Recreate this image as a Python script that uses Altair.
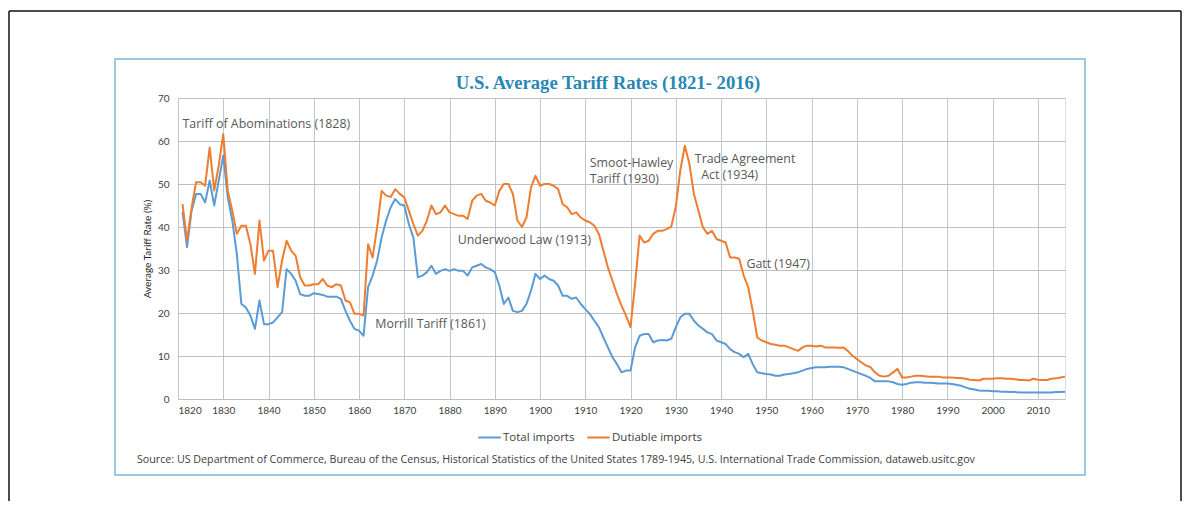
import altair as alt
import pandas as pd

# ---------------- data ----------------
years = list(range(1821, 2017))

total_imports = [
    43.5, 35.3, 43.8, 47.7, 47.7, 45.7, 50.8, 45.0, 50.8,            # 1821-1829
    56.6, 46.9, 41.5, 33.7, 22.1, 21.3, 19.4, 16.3, 22.9, 17.4,      # 1830s
    17.4, 17.8, 19.0, 20.2, 30.2, 29.1, 27.5, 24.4, 24.0, 24.0,      # 1840s
    24.6, 24.4, 24.2, 23.8, 23.8, 23.8, 23.3, 20.5, 18.2, 16.3,      # 1850s
    15.9, 14.7, 26.0, 28.7, 32.2, 37.6, 41.5, 44.6, 46.5, 45.3,      # 1860s
    45.0, 40.7, 37.6, 28.3, 28.7, 29.5, 31.0, 29.1, 29.8, 30.2,      # 1870s
    29.8, 30.2, 29.8, 29.8, 28.7, 30.6, 31.0, 31.4, 30.6, 30.2,      # 1880s
    29.5, 26.4, 22.1, 23.6, 20.5, 20.2, 20.5, 22.1, 25.2, 29.1,      # 1890s
    27.9, 28.7, 27.9, 27.5, 26.4, 24.0, 24.0, 23.3, 23.6, 22.1,      # 1900s
    20.9, 19.8, 18.2, 16.7, 14.3, 12.0, 9.7, 8.1, 6.2, 6.6,          # 1910s
    6.6, 12.0, 14.7, 15.1, 15.1, 13.2, 13.6, 13.7, 13.6, 14.0,       # 1920s
    16.7, 19.0, 19.8, 19.8, 18.2, 17.1, 16.3, 15.5, 15.1, 13.6,      # 1930s
    13.2, 12.8, 11.6, 10.9, 10.5, 9.7, 10.5, 8.1, 6.2, 6.0,          # 1940s
    5.8, 5.7, 5.4, 5.4, 5.7, 5.8, 6.0, 6.2, 6.6, 7.0,                # 1950s
    7.2, 7.4, 7.4, 7.4, 7.5, 7.5, 7.5, 7.4, 7.0, 6.6,                # 1960s
    6.2, 5.8, 5.4, 4.9, 4.1, 4.1, 4.1, 4.1, 3.9, 3.5,                # 1970s
    3.3, 3.5, 3.8, 3.9, 3.9, 3.8, 3.8, 3.7, 3.6, 3.6,                # 1980s
    3.6, 3.5, 3.3, 3.1, 2.7, 2.4, 2.2, 2.0, 1.9, 1.9,                # 1990s
    1.8, 1.8, 1.7, 1.7, 1.6, 1.6, 1.5, 1.5, 1.5, 1.5,                # 2000s
    1.5, 1.5, 1.5, 1.5, 1.6, 1.6, 1.7,                               # 2010-2016
]

dutiable_imports = [
    45.3, 36.8, 44.5, 50.4, 50.4, 49.6, 58.5, 48.5, 54.3,            # 1821-1829
    61.6, 48.4, 43.8, 38.4, 40.3, 40.3, 36.0, 29.1, 41.5, 32.2,      # 1830s
    34.5, 34.5, 26.0, 32.2, 36.8, 34.5, 33.3, 28.3, 26.4, 26.4,      # 1840s
    26.7, 26.7, 27.9, 26.4, 26.0, 26.7, 26.4, 22.9, 22.5, 19.8,      # 1850s
    19.8, 19.4, 36.0, 32.9, 39.9, 48.4, 47.3, 47.0, 48.8, 47.7,      # 1860s
    46.9, 43.8, 40.7, 38.0, 39.1, 41.5, 45.0, 43.0, 43.4, 45.0,      # 1870s
    43.4, 43.0, 42.6, 42.6, 41.9, 46.1, 47.3, 47.7, 46.1, 45.7,      # 1880s
    45.0, 48.4, 50.0, 50.0, 47.7, 41.5, 40.0, 42.2, 49.2, 51.9,      # 1890s
    49.6, 50.0, 50.0, 49.6, 48.8, 45.3, 44.6, 43.0, 43.4, 42.2,      # 1900s
    41.5, 41.1, 40.3, 38.4, 34.5, 30.6, 27.5, 24.4, 21.7, 19.4,      # 1910s
    16.7, 26.7, 38.0, 36.4, 36.8, 38.4, 39.1, 39.1, 39.5, 40.1,      # 1920s
    44.7, 53.2, 58.9, 54.7, 47.7, 43.8, 39.9, 38.4, 39.1, 37.2,      # 1930s
    36.8, 36.4, 32.9, 32.9, 32.6, 28.7, 26.0, 20.5, 14.3, 13.6,      # 1940s
    13.2, 12.8, 12.6, 12.4, 12.4, 12.0, 11.6, 11.2, 12.0, 12.4,      # 1950s
    12.4, 12.2, 12.4, 12.0, 12.0, 12.0, 11.9, 12.0, 11.2, 10.1,      # 1960s
    9.3, 8.5, 7.8, 7.4, 6.2, 5.4, 5.2, 5.4, 6.2, 7.0,                # 1970s
    5.0, 5.0, 5.2, 5.4, 5.4, 5.3, 5.2, 5.2, 5.2, 5.0,                # 1980s
    5.0, 5.0, 4.9, 4.9, 4.7, 4.5, 4.4, 4.3, 4.7, 4.7,                # 1990s
    4.7, 4.8, 4.8, 4.7, 4.7, 4.6, 4.4, 4.4, 4.3, 4.7,                # 2000s
    4.5, 4.4, 4.4, 4.7, 4.8, 5.0, 5.2,                               # 2010-2016
]

series_names = ["Total imports", "Dutiable imports"]
series_colors = ["#5B9BD5", "#ED7D31"]

x_ticks = list(range(1820, 2011, 10))
y_ticks = [0, 10, 20, 30, 40, 50, 60, 70]

ann_text = ["Tariff of Abominations (1828)", "Smoot-Hawley", "Tariff (1930)",
            "Trade Agreement", "Act (1934)", "Underwood  Law (1913)",
            "Morrill Tariff  (1861)", "Gatt (1947)"]
ann_year = [1821.0, 1911.0, 1911.0, 1934.2, 1935.6, 1881.8, 1863.6, 1945.6]
ann_value = [64.0, 54.9, 51.2, 55.8, 52.2, 37.0, 17.5, 31.5]

title_text = "U.S. Average Tariff Rates (1821- 2016)"
source_text = ("Source: US Department of Commerce, Bureau of the Census, Historical Statistics "
               "of the United States 1789-1945, U.S. International Trade Commission, dataweb.usitc.gov")

# ---------------- build ----------------
W, H = 887, 301
FONT = "Lato"
TFONT = "Open Sans"

df = pd.DataFrame({
    "year": years + years,
    "rate": total_imports + dutiable_imports,
    "series": [series_names[0]] * len(years) + [series_names[1]] * len(years),
})
ann = pd.DataFrame({"text": ann_text, "year": ann_year, "value": ann_value})
one = pd.DataFrame({"k": [0]})

xscale = alt.Scale(domain=[1820, 2016], nice=False, zero=False)
yscale = alt.Scale(domain=[0, 70], nice=False)

lines = alt.Chart(df).mark_line(strokeWidth=2, strokeJoin="round").encode(
    x=alt.X("year:Q", scale=xscale,
            axis=alt.Axis(values=x_ticks, format="d", title=None, grid=True,
                          gridColor="#BCC9D2", gridWidth=1, domain=False, ticks=False,
                          labelPadding=6, labelFontSize=10, labelColor="#404040",
                          labelFont=FONT)),
    y=alt.Y("rate:Q", scale=yscale,
            axis=alt.Axis(values=y_ticks, title="Average Tariff Rate (%)", grid=True,
                          gridColor="#BFBFBF", gridWidth=1, domain=False, ticks=False,
                          labelPadding=9, labelFontSize=10, labelColor="#404040",
                          labelFont=FONT, titleFont=FONT, titleFontSize=10,
                          titleFontWeight="normal", titleColor="#262626",
                          titlePadding=5)),
    color=alt.Color("series:N", scale=alt.Scale(domain=series_names, range=series_colors),
                    legend=alt.Legend(orient="none", legendX=299, legendY=327,
                                      direction="horizontal", title=None,
                                      symbolType="stroke", symbolStrokeWidth=2,
                                      symbolSize=500, labelFontSize=11.5,
                                      labelFont=TFONT, labelColor="#404040",
                                      columnPadding=8, labelOffset=1)),
)

annotations = alt.Chart(ann).mark_text(align="left", baseline="middle", font=TFONT,
                                        fontSize=12.4, color="#595959").encode(
    x=alt.X("year:Q", scale=xscale),
    y=alt.Y("value:Q", scale=yscale),
    text="text:N",
)

title = alt.Chart(one).mark_text(align="center", baseline="middle",
                                 font="Liberation Serif", fontWeight="bold",
                                 fontSize=18.7, color="#2A87B5").encode(
    x=alt.value(430), y=alt.value(-15), text=alt.value(title_text))

source = alt.Chart(one).mark_text(align="left", baseline="middle", font=TFONT,
                                  fontSize=10.7, color="#404040").encode(
    x=alt.value(-41), y=alt.value(362), text=alt.value(source_text))

blue_box = alt.Chart(one).mark_rect(fill="transparent", stroke="#9CCBDF",
                                    strokeWidth=2).encode(
    x=alt.value(-63), x2=alt.value(907), y=alt.value(-39), y2=alt.value(377))

border_top = alt.Chart(one).mark_rule(color="#111111", strokeWidth=1.5).encode(
    x=alt.value(-169), x2=alt.value(1003), y=alt.value(-87))
border_left = alt.Chart(one).mark_rule(color="#111111", strokeWidth=1.5).encode(
    x=alt.value(-169), y=alt.value(-87), y2=alt.value(403))
border_right = alt.Chart(one).mark_rule(color="#111111", strokeWidth=1.5).encode(
    x=alt.value(1003), y=alt.value(-87), y2=alt.value(403))

chart = alt.layer(border_top, border_left, border_right, blue_box, lines,
                  annotations, title, source).properties(
    width=W, height=H,
    autosize=alt.AutoSizeParams(type="none"),
    padding={"left": 170, "top": 90, "right": 117, "bottom": 102},
).configure_view(strokeWidth=0).configure(background="white")

chart.save("out.html", embed_options={"renderer": "svg", "actions": False})
